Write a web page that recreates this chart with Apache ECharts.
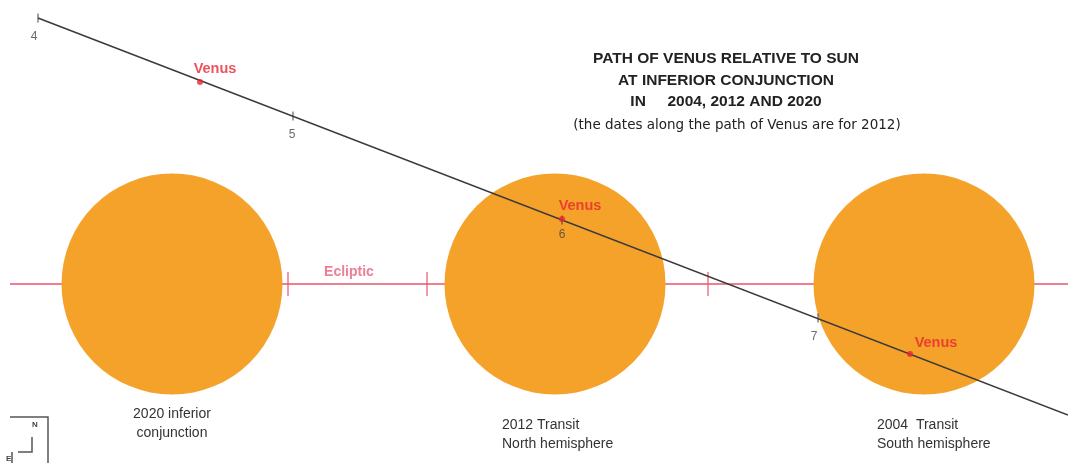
<!DOCTYPE html>
<html><head><meta charset="utf-8">
<script src="https://cdn.jsdelivr.net/npm/echarts@6/dist/echarts.min.js"></script>
<style>html,body{margin:0;padding:0;background:#fff}#c{width:1068px;height:463px}</style>
</head><body><div id="c"></div>
<script>
// Scene coordinates (x to the right, y downward)
const sunCentersX = [172, 555, 924];
const sunCenterY = 284;
const sunLabels = ['2020 inferior\nconjunction', '2012 Transit\nNorth hemisphere', '2004  Transit\nSouth hemisphere'];
const eclipticStart = [10, 284];
const eclipticEnd = [1068, 284];
const eclipticTicksX = [288, 427, 708];
const pathStart = [38, 18];
const pathEnd = [1068, 415];
const dateLabels = ['4', '5', '6', '7'];
const datePointsX = [38, 293, 562, 818];
const datePointsY = [18, 116, 220, 318];
const venusPoints = [[200, 82], [562, 219], [910, 354]];
const titleLines = ['PATH OF VENUS RELATIVE TO SUN', 'AT INFERIOR CONJUNCTION', 'IN     2004, 2012 AND 2020'];
const subtitleText = '(the dates along the path of Venus are for 2012)';

const chart = echarts.init(document.getElementById('c'), null, {renderer: 'canvas'});
const FONT = 'Liberation Sans, Arial, sans-serif';
const venusLabelOffsets = [[15, -1], [18, -1], [26, 1]];
const dateLabelOffsets = [[-4, 6], [-1, 6], [0, 2], [-4, 6]];
const sunLabelStyles = [
  {align: 'center', offset: [0, -4]},
  {align: 'left', offset: [-53, 7]},
  {align: 'left', offset: [-47, 7]}
];

const option = {
  animation: false,
  grid: {left: 0, right: 0, top: 0, bottom: 0},
  xAxis: {type: 'value', min: 0, max: 1068, show: false},
  yAxis: {type: 'value', min: 0, max: 463, inverse: true, show: false},
  title: [
    {text: titleLines.join('\n'), left: 721, top: 43, textAlign: 'center',
     textStyle: {fontFamily: FONT, fontSize: 15.5, fontWeight: 'bold', color: '#222', lineHeight: 21.5}},
    {text: subtitleText, left: 732, top: 113, textAlign: 'center',
     textStyle: {fontFamily: 'DejaVu Sans, sans-serif', fontSize: 13.5, fontWeight: 'normal', color: '#222'}}
  ],
  series: [
    {type: 'line', z: 1, data: [eclipticStart, eclipticEnd], symbol: 'none',
     lineStyle: {color: '#e8556b', width: 1.5}, silent: true},
    {type: 'scatter', z: 1, data: eclipticTicksX.map(x => [x, sunCenterY]), symbol: 'rect',
     symbolSize: [1.5, 24], itemStyle: {color: '#e8556b'}, silent: true},
    {type: 'scatter', z: 2, data: sunCentersX.map((x, i) => ({
        value: [x, sunCenterY],
        label: {show: true, position: 'bottom', distance: 0, formatter: sunLabels[i],
          align: sunLabelStyles[i].align, offset: sunLabelStyles[i].offset,
          fontFamily: FONT, fontSize: 14, color: '#333', lineHeight: 19,
          padding: [14, 0, 0, 0]}
      })),
     symbol: 'circle', symbolSize: 221, itemStyle: {color: '#f5a22a', opacity: 1}, silent: true},
    {type: 'scatter', z: 2, data: [[349, 284]], symbolSize: 0,
     label: {show: true, position: 'top', distance: 5, formatter: 'Ecliptic',
       fontFamily: FONT, fontSize: 14, fontWeight: 'bold', color: '#e86078'}, silent: true},
    {type: 'line', z: 3, data: [pathStart, pathEnd], symbol: 'none',
     lineStyle: {color: '#3a3a3a', width: 1.5}, silent: true},
    {type: 'scatter', z: 3, data: datePointsX.map((x, i) => ({
        value: [x, datePointsY[i]],
        label: {show: true, position: 'bottom', distance: 2, formatter: dateLabels[i],
          offset: dateLabelOffsets[i], fontFamily: FONT, fontSize: 12, color: '#444'}
      })),
     symbol: 'rect', symbolSize: [1.2, 9], itemStyle: {color: '#3a3a3a'}, silent: true},
    {type: 'scatter', z: 4, data: venusPoints.map((p, i) => ({
        value: p,
        label: {show: true, position: 'top', distance: 2, formatter: 'Venus',
          offset: venusLabelOffsets[i], fontFamily: FONT, fontSize: 14.5, fontWeight: 'bold', color: '#e8262f'}
      })),
     symbol: 'circle', symbolSize: 6, itemStyle: {color: '#e8262f'}, silent: true}
  ],
  graphic: [
    {type: 'polyline', shape: {points: [[10, 417], [48, 417], [48, 463]]}, style: {stroke: '#555', lineWidth: 1.5, fill: null}},
    {type: 'polyline', shape: {points: [[32, 437], [32, 452], [18, 452]]}, style: {stroke: '#555', lineWidth: 1.5, fill: null}},
    {type: 'line', shape: {x1: 12, y1: 452, x2: 12, y2: 463}, style: {stroke: '#555', lineWidth: 1.5}},
    {type: 'text', left: 32, top: 421, style: {text: 'N', font: 'bold 8px ' + FONT, fill: '#444'}},
    {type: 'text', left: 6, top: 455, style: {text: 'E', font: 'bold 8px ' + FONT, fill: '#444'}}
  ]
};
chart.setOption(option);
</script></body></html>
